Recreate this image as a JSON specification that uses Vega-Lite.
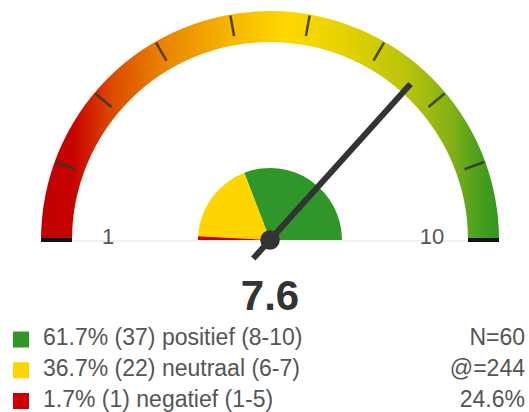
{
  "$schema": "https://vega.github.io/schema/vega-lite/v6.json",
  "width": 529,
  "height": 412,
  "autosize": {"type": "fit", "contains": "padding"},
  "padding": 0,
  "background": "white",
  "config": {"view": {"stroke": null}, "font": "Liberation Sans"},
  "datasets": {
    "gauge": [{"score": 7.6}],
    "scale": [{"v": 1}, {"v": 2}, {"v": 3}, {"v": 4}, {"v": 5}, {"v": 6}, {"v": 7}, {"v": 8}, {"v": 9}, {"v": 10}],
    "groups": [
      {"cat": "positief", "label": "61.7% (37) positief (8-10)", "pct": 61.7, "count": 37, "lo": 8, "stat": "N=60"},
      {"cat": "neutraal", "label": "36.7% (22) neutraal (6-7)", "pct": 36.7, "count": 22, "lo": 6, "stat": "@=244"},
      {"cat": "negatief", "label": "1.7% (1) negatief (1-5)", "pct": 1.7, "count": 1, "lo": 1, "stat": "24.6%"}
    ]
  },
  "resolve": {"scale": {"y": "independent", "x": "independent"}},
  "layer": [
    {
      "resolve": {"scale": {"theta": "independent"}},
      "encoding": {
        "x": {"datum": 0, "type": "quantitative", "scale": {"domain": [-270, 259], "nice": false, "zero": false}, "axis": null},
        "y": {"datum": 0, "type": "quantitative", "scale": {"domain": [-172, 240], "nice": false, "zero": false}, "axis": null}
      },
      "layer": [
        {
          "data": {"name": "gauge"},
          "mark": {
            "type": "arc", "radius": 229, "radius2": 198, "strokeWidth": 0,
            "color": {
              "gradient": "linear", "x1": 0, "y1": 0, "x2": 1, "y2": 0,
              "stops": [
                {"offset": 0, "color": "#c00000"},
                {"offset": 0.07, "color": "#c60200"},
                {"offset": 0.1, "color": "#cf1a00"},
                {"offset": 0.15, "color": "#db4800"},
                {"offset": 0.267, "color": "#e98300"},
                {"offset": 0.419, "color": "#f6b900"},
                {"offset": 0.54, "color": "#ffd800"},
                {"offset": 0.66, "color": "#e6d200"},
                {"offset": 0.8, "color": "#b8c30c"},
                {"offset": 0.9, "color": "#80b016"},
                {"offset": 0.945, "color": "#52a21c"},
                {"offset": 1, "color": "#2e961e"}
              ]
            }
          },
          "encoding": {
            "theta": {"datum": 1, "type": "quantitative", "scale": {"domain": [1, 10], "range": [-1.5707963, 1.5707963]}},
            "theta2": {"datum": 10}
          }
        },
        {
          "data": {"name": "gauge"},
          "mark": {"type": "rule", "color": "#e2e2e2", "strokeWidth": 1},
          "encoding": {
            "x": {"datum": -229, "type": "quantitative", "scale": {"domain": [-270, 259], "nice": false, "zero": false}, "axis": null},
            "x2": {"datum": 229},
            "y": {"datum": -1, "type": "quantitative", "scale": {"domain": [-172, 240], "nice": false, "zero": false}, "axis": null}
          }
        },
        {
          "data": {"name": "scale"},
          "transform": [{"filter": "datum.v == 1 || datum.v == 10"}],
          "mark": {"type": "point", "shape": "M -0.0087 -1 L 0.0087 -1 L 0.0087 -0.8646 L -0.0087 -0.8646 Z", "size": 209764, "filled": true, "color": "#111111", "opacity": 1, "strokeWidth": 0},
          "encoding": {"angle": {"field": "v", "type": "quantitative", "scale": {"domain": [1, 10], "range": [-90, 90]}}}
        },
        {
          "data": {"name": "scale"},
          "transform": [{"filter": "datum.v > 1 && datum.v < 10"}],
          "mark": {"type": "point", "shape": "M -0.0055 -0.9956 L 0.0055 -0.9956 L 0.0055 -0.9039 L -0.0055 -0.9039 Z", "size": 209764, "filled": true, "color": "#333333", "opacity": 0.85, "strokeWidth": 0},
          "encoding": {"angle": {"field": "v", "type": "quantitative", "scale": {"domain": [1, 10], "range": [-90, 90]}}}
        },
        {
          "data": {"name": "groups"},
          "mark": {"type": "arc", "radius": 72, "strokeWidth": 0},
          "encoding": {
            "theta": {"field": "count", "type": "quantitative", "stack": true, "scale": {"domain": [0, 60], "range": [-1.5707963, 1.5707963]}},
            "order": {"field": "lo", "type": "quantitative", "sort": "ascending"},
            "color": {"field": "cat", "type": "nominal", "scale": {"domain": ["positief", "neutraal", "negatief"], "range": ["#31962a", "#ffd500", "#cc0000"]}, "legend": null}
          }
        },
        {
          "data": {"name": "scale"},
          "transform": [{"filter": "datum.v == 1 || datum.v == 10"}],
          "mark": {"type": "text", "radius": 162, "fontSize": 22, "color": "#555555", "baseline": "middle", "align": "center", "dy": -3},
          "encoding": {
            "theta": {"field": "v", "type": "quantitative", "scale": {"domain": [1, 10], "range": [-1.5707963, 1.5707963]}},
            "text": {"field": "v", "type": "quantitative"}
          }
        },
        {
          "data": {"name": "gauge"},
          "mark": {"type": "point", "shape": "M -0.0143 -1 L 0.0143 -1 L 0.0143 0.119 L -0.0143 0.119 Z", "size": 176400, "filled": true, "color": "#333333", "opacity": 1, "strokeWidth": 0},
          "encoding": {"angle": {"field": "score", "type": "quantitative", "scale": {"domain": [1, 10], "range": [-90, 90]}}}
        },
        {
          "data": {"name": "gauge"},
          "mark": {"type": "point", "shape": "circle", "size": 380, "filled": true, "color": "#333333", "opacity": 1, "strokeWidth": 0},
          "encoding": {}
        },
        {
          "data": {"name": "gauge"},
          "mark": {"type": "text", "fontSize": 42, "fontWeight": "bold", "color": "#333333", "baseline": "middle", "align": "center"},
          "encoding": {
            "y": {"datum": -57, "type": "quantitative", "scale": {"domain": [-172, 240], "nice": false, "zero": false}, "axis": null},
            "text": {"field": "score", "type": "quantitative", "format": ".1f"}
          }
        }
      ]
    },
    {
      "data": {"name": "groups"},
      "encoding": {
        "y": {"field": "cat", "type": "nominal", "scale": {"type": "point", "domain": ["positief", "neutraal", "negatief"], "range": [338, 399.5], "padding": 0}, "axis": null}
      },
      "layer": [
        {
          "mark": {"type": "point", "shape": "square", "size": 256, "filled": true, "opacity": 1, "strokeWidth": 0, "yOffset": 1.5},
          "encoding": {
            "x": {"value": 21},
            "color": {"field": "cat", "type": "nominal", "scale": {"domain": ["positief", "neutraal", "negatief"], "range": ["#31962a", "#ffd500", "#cc0000"]}, "legend": null}
          }
        },
        {
          "mark": {"type": "text", "align": "left", "baseline": "middle", "fontSize": 23, "color": "#555555"},
          "encoding": {"x": {"value": 43}, "text": {"field": "label"}}
        },
        {
          "mark": {"type": "text", "align": "right", "baseline": "middle", "fontSize": 23, "color": "#555555"},
          "encoding": {"x": {"value": 525}, "text": {"field": "stat"}}
        }
      ]
    }
  ]
}
